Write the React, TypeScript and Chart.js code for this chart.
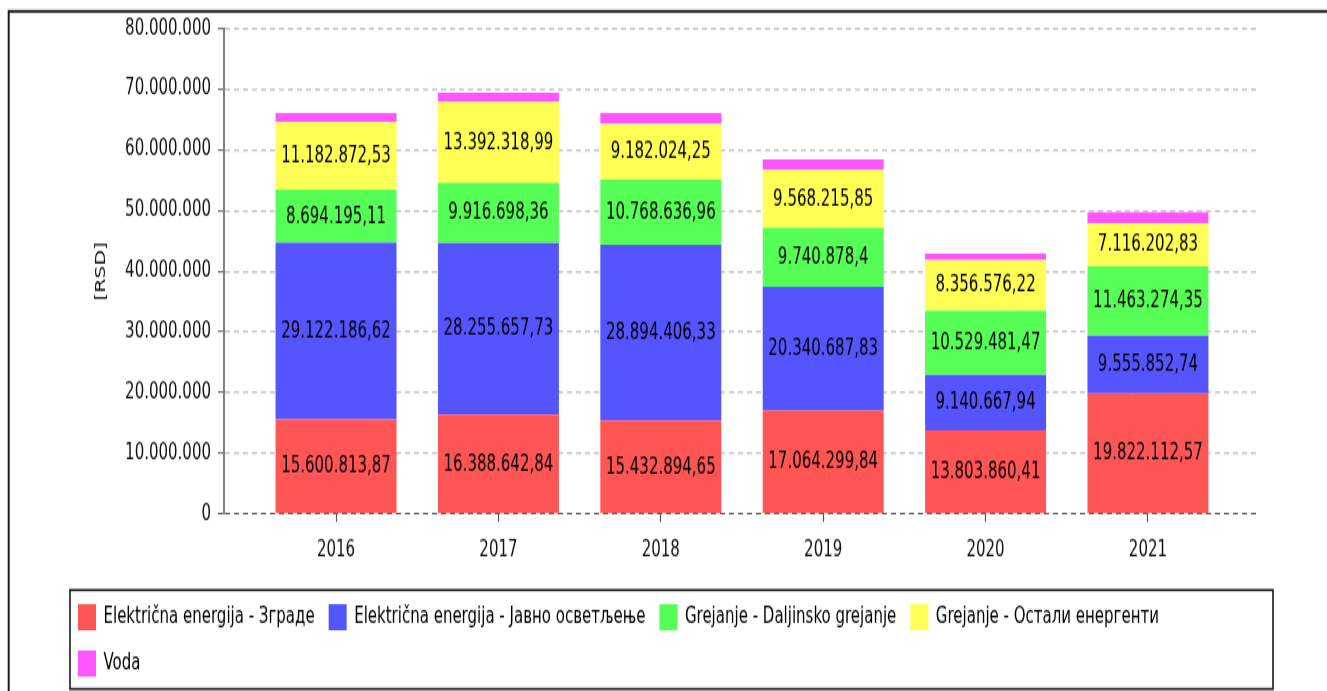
import React, { useEffect, useRef } from 'react';
import { Chart, registerables } from 'chart.js';

Chart.register(...registerables);

// ---- data ----
const years = ['2016', '2017', '2018', '2019', '2020', '2021'];
const seriesNames = [
  'Električna energija - Зграде',
  'Električna energija - Јавно осветљење',
  'Grejanje - Daljinsko grejanje',
  'Grejanje - Остали енергенти',
  'Voda',
];
const elektricnaZgrade = [15600813.87, 16388642.84, 15432894.65, 17064299.84, 13803860.41, 19822112.57];
const elektricnaJavno = [29122186.62, 28255657.73, 28894406.33, 20340687.83, 9140667.94, 9555852.74];
const grejanjeDaljinsko = [8694195.11, 9916698.36, 10768636.96, 9740878.4, 10529481.47, 11463274.35];
const grejanjeOstali = [11182872.53, 13392318.99, 9182024.25, 9568215.85, 8356576.22, 7116202.83];
const voda = [1500000, 1500000, 1800000, 1750000, 1120000, 1750000];
const seriesValues = [elektricnaZgrade, elektricnaJavno, grejanjeDaljinsko, grejanjeOstali, voda];
const seriesColors = ['#FF5555', '#5555FF', '#55FF55', '#FFFF55', '#FF55FF'];
const seriesShowLabels = [true, true, true, true, false];
const yMax = 80000000;
const yStep = 10000000;
const axisTitle = '[RSD]';

const FONT = "'DejaVu Sans', 'Noto Sans', sans-serif";
const CANVAS_W = 1327;
const CANVAS_H = 477; // drawn height, stretched vertically to 691 by CSS
const DISPLAY_H = 691;
const LEGEND_ROW_WIDTH = 1180;

function fmt(v: number): string {
  const s = v.toFixed(2).replace(/\.?0+$/, '');
  const [ip, dp] = s.split('.');
  const intF = ip.replace(/\B(?=(\d{3})+(?!\d))/g, '.');
  return dp ? intF + ',' + dp : intF;
}

const valueLabels = {
  id: 'valueLabels',
  afterDatasetsDraw(chart: any) {
    const ctx = chart.ctx;
    ctx.save();
    ctx.font = `15px ${FONT}`;
    ctx.fillStyle = '#000';
    ctx.textAlign = 'center';
    ctx.textBaseline = 'middle';
    chart.data.datasets.forEach((ds: any, di: number) => {
      if (!seriesShowLabels[di]) return;
      const meta = chart.getDatasetMeta(di);
      meta.data.forEach((el: any, i: number) => {
        const { x, y, base } = el.getProps(['x', 'y', 'base'], true);
        ctx.fillText(fmt(ds.data[i] as number), x, (y + base) / 2 + 0.5);
      });
    });
    ctx.restore();
  },
};

const frames = {
  id: 'frames',
  afterInit(chart: any) {
    // limit the legend row width so that the last item wraps to a second row
    const lg = chart.legend;
    if (lg && !lg.__wrapped) {
      const origUpdate = lg.update.bind(lg);
      lg.update = (maxWidth: number, maxHeight: number, margins: any) =>
        origUpdate(Math.min(maxWidth, LEGEND_ROW_WIDTH), maxHeight, margins);
      const origDraw = lg.draw.bind(lg);
      lg.draw = () => {
        const r = lg.right;
        lg.right = Math.min(r, lg.left + LEGEND_ROW_WIDTH);
        origDraw();
        lg.right = r;
      };
      lg.__wrapped = true;
    }
  },
  beforeDraw(chart: any) {
    const ctx = chart.ctx;
    ctx.save();
    ctx.fillStyle = '#fff';
    ctx.fillRect(0, 0, chart.width, chart.height);
    ctx.restore();
  },
  afterDraw(chart: any) {
    const ctx = chart.ctx;
    const lg = chart.legend;
    ctx.save();
    ctx.strokeStyle = '#1a1a1a';
    ctx.lineWidth = 2;
    ctx.strokeRect(8.7, 7.8, chart.width + 50, chart.height + 50);
    ctx.lineWidth = 1.6;
    const l = lg.left + 6;
    const t = lg.top + 4.3;
    const r = 1273;
    const b = lg.bottom - 1.4;
    ctx.strokeRect(l, t, r - l, b - t);
    ctx.restore();
  },
};

export default function App() {
  const ref = useRef<HTMLCanvasElement>(null);
  useEffect(() => {
    if (!ref.current) return;
    const chart = new Chart(ref.current, {
      type: 'bar',
      data: {
        labels: years,
        datasets: seriesNames.map((name, i) => ({
          label: name,
          data: seriesValues[i],
          backgroundColor: seriesColors[i],
          borderWidth: 0,
          stack: 'total',
          categoryPercentage: 1,
          barPercentage: 0.745,
        })),
      },
      options: {
        animation: false,
        responsive: false,
        devicePixelRatio: 1,
        events: [],
        layout: { padding: { left: 64, right: 67, top: 19.7, bottom: 0 } },
        plugins: {
          legend: {
            position: 'bottom',
            align: 'start',
            labels: {
              boxWidth: 18,
              boxHeight: 18,
              padding: 14,
              color: '#000',
              font: { family: FONT, size: 15 },
            },
          },
          tooltip: { enabled: false },
        },
        scales: {
          x: {
            type: 'linear',
            offset: false,
            min: 2015.31,
            max: 2021.69,
            afterFit: (s: any) => {
              s.height = 48.2;
            },
            grid: {
              display: true,
              offset: false,
              drawOnChartArea: false,
              drawTicks: true,
              tickLength: 5.5,
              tickColor: '#555',
              tickWidth: 1.2,
            },
            border: { display: false },
            ticks: {
              stepSize: 1,
              includeBounds: false,
              autoSkip: false,
              maxRotation: 0,
              padding: 10.5,
              color: '#111',
              font: { family: FONT, size: 15 },
              callback: (v: any) => String(v),
            },
          },
          y: {
            stacked: true,
            min: 0,
            max: yMax,
            afterFit: (s: any) => {
              s.width = 160;
            },
            ticks: {
              stepSize: yStep,
              padding: 7,
              color: '#111',
              font: { family: FONT, size: 15 },
              callback: (v: any) => fmt(Number(v)),
            },
            grid: {
              color: (c: any) => (c.tick && c.tick.value === 0 ? '#555' : '#c8c8c8'),
              lineWidth: (c: any) => (c.tick && c.tick.value === 0 ? 1 : 1.4),
              tickLength: 6,
              tickColor: '#555',
              tickWidth: 1,
              tickBorderDash: [],
            },
            border: { display: true, color: '#808080', width: 2, dash: [5, 4] },
            title: {
              display: true,
              text: axisTitle,
              color: '#111',
              font: { family: FONT, size: 14 },
              padding: { top: 29, bottom: 0 },
            },
          },
        },
      },
      plugins: [valueLabels, frames],
    } as any);
    return () => chart.destroy();
  }, []);

  return (
    <div style={{ position: 'fixed', left: 0, top: 0, width: CANVAS_W, height: DISPLAY_H, overflow: 'hidden', background: '#fff' }}>
      <canvas
        ref={ref}
        width={CANVAS_W}
        height={CANVAS_H}
        style={{ display: 'block', width: `${CANVAS_W}px`, height: `${DISPLAY_H}px` }}
      />
    </div>
  );
}
